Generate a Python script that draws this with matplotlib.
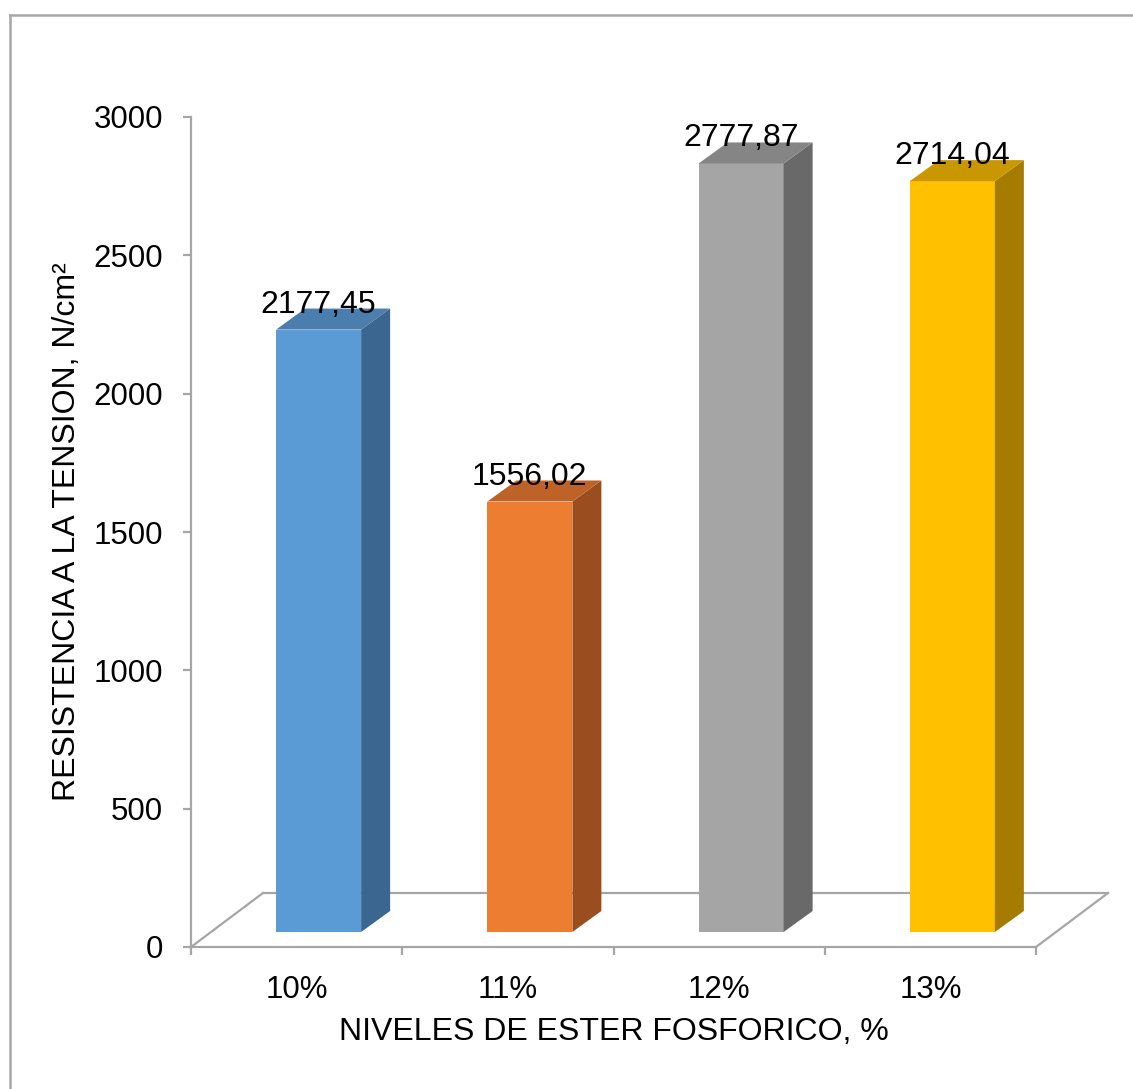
import matplotlib
matplotlib.use("Agg")
import matplotlib.pyplot as plt
from matplotlib.patches import Polygon
from matplotlib.lines import Line2D

plt.rcParams['font.family'] = ['Liberation Sans', 'DejaVu Sans']

# datos
niveles = ['10%', '11%', '12%', '13%']
resistencia = [2177.45, 1556.02, 2777.87, 2714.04]
etiquetas = ['2177,45', '1556,02', '2777,87', '2714,04']
yticks = [0, 500, 1000, 1500, 2000, 2500, 3000]

# colores: frente, lado, tapa
frente = ['#5B9BD5', '#ED7D31', '#A5A5A5', '#FFC000']
lado = ['#3B6690', '#9A4E1F', '#696969', '#A67C00']
tapa = ['#4A7EAE', '#BE6328', '#858585', '#C99700']

W, H = 1133, 1089
fig = plt.figure(figsize=(W / 100, H / 100), dpi=100)
ax = fig.add_axes([191 / W, 1 - 947 / H, 845 / W, 830 / H])

ax.set_xlim(0, 4)
ax.set_ylim(0, 3000)

# profundidad del piso (en unidades de datos)
px_x = 845 / 4
px_y = 830 / 3000
fondo_x = 72 / px_x
fondo_y = 54 / px_y

gris = '#A6A6A6'

# piso en perspectiva
ax.add_line(Line2D([0, fondo_x], [0, fondo_y], color=gris, lw=1.6, clip_on=False, zorder=1))
ax.add_line(Line2D([fondo_x, 4 + fondo_x], [fondo_y, fondo_y], color=gris, lw=1.6, clip_on=False, zorder=1))
ax.add_line(Line2D([4, 4 + fondo_x], [0, fondo_y], color=gris, lw=1.6, clip_on=False, zorder=1))

# barras 3D
desp_x = 22 / px_x
desp_y = 15 / px_y
ancho = 85 / px_x
prof_x = 29 / px_x
prof_y = 21 / px_y

for i, v in enumerate(resistencia):
    xc = i + 0.5 + desp_x
    x0, x1 = xc - ancho / 2, xc + ancho / 2
    y0, y1 = desp_y, desp_y + v
    ax.add_patch(Polygon([(x0, y0), (x1, y0), (x1, y1), (x0, y1)],
                         closed=True, fc=frente[i], ec='none', clip_on=False, zorder=3))
    ax.add_patch(Polygon([(x1, y0), (x1 + prof_x, y0 + prof_y), (x1 + prof_x, y1 + prof_y), (x1, y1)],
                         closed=True, fc=lado[i], ec='none', clip_on=False, zorder=3))
    ax.add_patch(Polygon([(x0, y1), (x1, y1), (x1 + prof_x, y1 + prof_y), (x0 + prof_x, y1 + prof_y)],
                         closed=True, fc=tapa[i], ec='none', clip_on=False, zorder=3))
    ax.text(xc, y1 + prof_y - 4 / px_y, etiquetas[i], ha='center', va='baseline',
            fontsize=23, color='black', zorder=5, clip_on=False)

# ejes
for s in ['top', 'right']:
    ax.spines[s].set_visible(False)
for s in ['left', 'bottom']:
    ax.spines[s].set_color(gris)
    ax.spines[s].set_linewidth(1.6)

ax.set_yticks(yticks)
ax.set_yticklabels([str(t) for t in yticks])
ax.set_xticks([0, 1, 2, 3, 4])
ax.set_xticklabels([])
ax.set_xticks([0.5, 1.5, 2.5, 3.5], minor=True)
ax.set_xticklabels(niveles, minor=True)
ax.tick_params(axis='y', length=6, width=1.6, color=gris, pad=14, labelsize=22.5)
ax.tick_params(axis='x', which='major', length=6, width=1.6, color=gris)
ax.tick_params(axis='x', which='minor', length=0, pad=20, labelsize=22.5)

ax.set_xlabel('NIVELES DE ESTER FOSFORICO, %', fontsize=23, va='center')
ax.xaxis.set_label_coords(0.5, -0.102)
ax.set_ylabel('RESISTENCIA A LA TENSION, N/cm²', fontsize=23, va='center')
ax.yaxis.set_label_coords(-0.147, 0.5)

# marco exterior del gráfico
fig.add_artist(Line2D([10 / W, 10 / W], [0, 1 - 15 / H], color=gris, lw=1.8))
fig.add_artist(Line2D([10 / W, 1], [1 - 15 / H, 1 - 15 / H], color=gris, lw=1.8))

fig.savefig('out.png', dpi=100)
